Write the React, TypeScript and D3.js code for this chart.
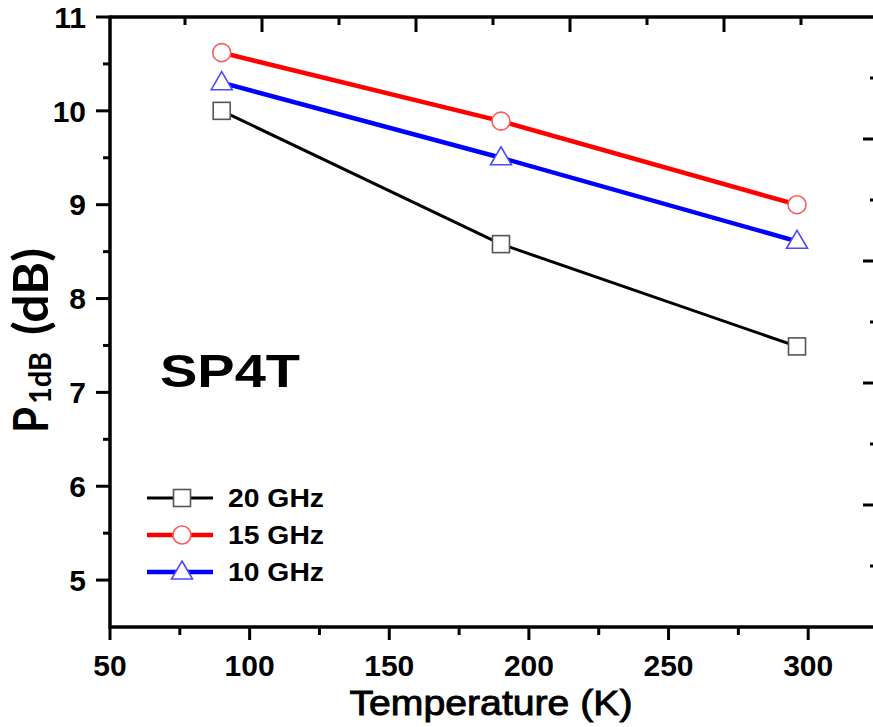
import React from 'react';
import * as d3 from 'd3';

// temperature (K) at which P1dB was measured
const temps = [90, 190, 296];

// P1dB (dB) per frequency
const p20GHz = [10.0, 8.58, 7.49];
const p15GHz = [10.62, 9.89, 9.0];
const p10GHz = [10.3, 9.5, 8.61];

const seriesNames = ['20 GHz', '15 GHz', '10 GHz'];

const xTicks = [50, 100, 150, 200, 250, 300];
const yTicks = [5, 6, 7, 8, 9, 10, 11];

// frame ticks on top/right come from a different scale in the source figure
const frameTicks = [1, 2, 3, 4, 5, 6, 7, 8, 9];

const W = 873;
const H = 727;
const left = 110;
const right = 878;
const top = 17;
const bottom = 627;

const series = [
  { name: seriesNames[0], values: p20GHz, line: '#000000', marker: '#555555', lw: 3, shape: 'square' },
  { name: seriesNames[1], values: p15GHz, line: '#ff0000', marker: '#ff5a5a', lw: 4.5, shape: 'circle' },
  { name: seriesNames[2], values: p10GHz, line: '#0000ff', marker: '#4a4aff', lw: 4.5, shape: 'triangle' },
];

const font = '"Liberation Sans", Arial, sans-serif';

function Marker({ shape, x, y, color }) {
  if (shape === 'square') {
    return <rect x={x - 8.5} y={y - 8.5} width={17} height={17} fill="#fff" stroke={color} strokeWidth={1.6} />;
  }
  if (shape === 'circle') {
    return <circle cx={x} cy={y} r={9} fill="#fff" stroke={color} strokeWidth={1.6} />;
  }
  const pts = [[x, y - 11], [x + 10.5, y + 7], [x - 10.5, y + 7]];
  return <polygon points={pts.map(p => p.join(',')).join(' ')} fill="#fff" stroke={color} strokeWidth={1.6} />;
}

export default function App() {
  const x = d3.scaleLinear().domain([50, 325]).range([left, right]);
  const y = d3.scaleLinear().domain([4.5, 11]).range([bottom, top]);
  const topScale = d3.scaleLinear().domain([0, 10]).range([left - 2, right]);
  const rightScale = d3.scaleLinear().domain([0, 10]).range([bottom, top]);

  const xMinor = d3.range(75, 325, 50);
  const yMinor = d3.range(4.5, 11, 1).map(v => v + 0.0).filter(v => v > 4.5).concat([]);
  const yHalf = d3.range(5.5, 11, 1);

  const line = d3.line<number>()
    .x((_, i) => x(temps[i]))
    .y(d => y(d));

  const legendRows = [498, 535, 572];

  return (
    <svg width={W} height={H} style={{ position: 'absolute', left: 0, top: 0, background: '#fff' }}>
      <rect width={W} height={H} fill="#fff" />

      {/* frame */}
      <g stroke="#000" strokeWidth={3.5} fill="none">
        <line x1={left} y1={top} x2={right} y2={top} />
        <line x1={left} y1={top - 1.5} x2={left} y2={bottom + 1.5} />
        <line x1={left} y1={bottom} x2={right} y2={bottom} />
        <line x1={right} y1={top} x2={right} y2={bottom} />
      </g>

      {/* left axis ticks */}
      <g stroke="#000" strokeWidth={3}>
        {yTicks.map(v => <line key={'y' + v} x1={left - 14} x2={left} y1={y(v)} y2={y(v)} />)}
        {yHalf.map(v => <line key={'yh' + v} x1={left - 7} x2={left} y1={y(v)} y2={y(v)} />)}
        {xTicks.map(v => <line key={'x' + v} x1={x(v)} x2={x(v)} y1={bottom} y2={bottom + 13} />)}
        {xMinor.map(v => <line key={'xm' + v} x1={x(v)} x2={x(v)} y1={bottom} y2={bottom + 8} />)}
        {frameTicks.map(v => (
          <line key={'t' + v} x1={topScale(v)} x2={topScale(v)} y1={top} y2={top + (v % 2 === 0 ? 15 : 8)} />
        ))}
        {frameTicks.map(v => (
          <line key={'r' + v} x1={right - (v % 2 === 0 ? 15 : 8)} x2={right} y1={rightScale(v)} y2={rightScale(v)} />
        ))}
      </g>

      {/* tick labels */}
      <g fontFamily={font} fontWeight="bold" fontSize={30} fill="#000">
        {yTicks.map(v => (
          <text key={'yl' + v} x={86} y={y(v)} dy="0.36em" textAnchor="end">{v}</text>
        ))}
        {xTicks.map(v => (
          <text key={'xl' + v} x={x(v)} y={676} textAnchor="middle">{v}</text>
        ))}
      </g>

      {/* axis titles */}
      <text x={491} y={715} textAnchor="middle" fontFamily={font} fontSize={35}
        stroke="#000" strokeWidth={0.9} fill="#000" textLength={283} lengthAdjust="spacingAndGlyphs">
        Temperature (K)
      </text>
      <g transform="translate(48,433) rotate(-90)" fontFamily="Lato, 'Open Sans', sans-serif" fontWeight="bold" fill="#000">
        <text x={0} y={0} fontSize={48} textLength={26} lengthAdjust="spacingAndGlyphs">P</text>
        <text x={29} y={3} fontSize={30} textLength={52} lengthAdjust="spacingAndGlyphs">1dB</text>
        <text x={98} y={0} fontSize={48} textLength={87} lengthAdjust="spacingAndGlyphs">(dB)</text>
      </g>

      {/* label */}
      <text x={160} y={387} fontFamily={font} fontWeight="bold" fontSize={47}
        textLength={140} lengthAdjust="spacingAndGlyphs">SP4T</text>

      {/* series */}
      {series.map(s => (
        <g key={s.name}>
          <path d={line(s.values) || ''} fill="none" stroke={s.line} strokeWidth={s.lw} />
          {s.values.map((v, i) => (
            <Marker key={i} shape={s.shape} x={x(temps[i])} y={y(v)} color={s.marker} />
          ))}
        </g>
      ))}

      {/* legend */}
      {series.map((s, i) => (
        <g key={'lg' + s.name}>
          <line x1={147} x2={213} y1={legendRows[i]} y2={legendRows[i]} stroke={s.line} strokeWidth={s.lw} />
          <Marker shape={s.shape} x={182} y={legendRows[i]} color={s.marker} />
          <text x={228} y={legendRows[i]} dy="0.36em" fontFamily={font} fontWeight="bold" fontSize={25}
            textLength={96} lengthAdjust="spacingAndGlyphs">{s.name}</text>
        </g>
      ))}
    </svg>
  );
}
